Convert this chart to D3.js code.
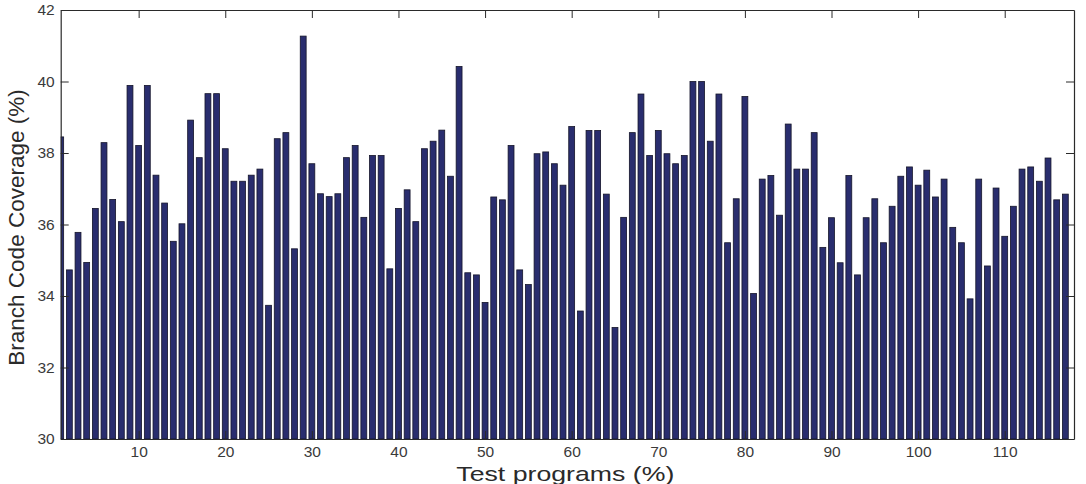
<!DOCTYPE html>
<html>
<head>
<meta charset="utf-8">
<script src="https://cdn.jsdelivr.net/npm/d3@7"></script>
<style>
  html, body { margin: 0; padding: 0; background: #fff; }
  svg { display: block; font-family: "Liberation Sans", Arial, Helvetica, sans-serif; }
</style>
</head>
<body>
<svg id="chart" width="1086" height="484"></svg>
<script>
// ---- data ----
const coverage = [
  38.45, 34.73, 35.78, 34.94, 36.45, 38.29, 36.70, 36.08, 39.89, 38.21,
  39.89, 37.38, 36.60, 35.53, 36.02, 38.92, 37.87, 39.66, 39.66, 38.12,
  37.21, 37.21, 37.38, 37.55, 33.74, 38.40, 38.57, 35.32, 41.27, 37.70,
  36.86, 36.78, 36.86, 37.87, 38.21, 36.20, 37.93, 37.93, 34.76, 36.45,
  36.97, 36.08, 38.12, 38.33, 38.64, 37.35, 40.42, 34.65, 34.59, 33.82,
  36.77, 36.69, 38.21, 34.73, 34.32, 37.98, 38.03, 37.70, 37.10, 38.74,
  33.58, 38.63, 38.63, 36.85, 33.12, 36.20, 38.57, 39.65, 37.93, 38.63,
  37.98, 37.70, 37.93, 40.00, 40.00, 38.33, 39.65, 35.49, 36.72, 39.58,
  34.07, 37.27, 37.37, 36.26, 38.81, 37.55, 37.55, 38.57, 35.36, 36.19,
  34.93, 37.37, 34.59, 36.19, 36.72, 35.49, 36.51, 37.35, 37.61, 37.10,
  37.52, 36.77, 37.27, 35.92, 35.49, 33.92, 37.27, 34.84, 37.02, 35.67,
  36.51, 37.55, 37.61, 37.21, 37.86, 36.69, 36.85
];
const programs = coverage.map((v, i) => i + 1);
const xTicks = [10, 20, 30, 40, 50, 60, 70, 80, 90, 100, 110];
const yTicks = [30, 32, 34, 36, 38, 40, 42];
const xDomain = [1, 118];
const yDomain = [30, 42];
const xTitle = "Test programs (%)";
const yTitle = "Branch Code Coverage (%)";

// ---- layout ----
const L = 60.7, R = 1074, T = 10, B = 439;
const svg = d3.select("#chart");
const x = d3.scaleLinear().domain(xDomain).range([L, R]);
const y = d3.scaleLinear().domain(yDomain).range([B, T]);
const unit = x(2) - x(1);
const bw = unit * 0.68;

svg.append("defs").append("clipPath").attr("id", "plotclip")
  .append("rect").attr("x", L).attr("y", T).attr("width", R - L).attr("height", B - T);

// bars
svg.append("g").attr("clip-path", "url(#plotclip)")
  .selectAll("rect").data(programs).join("rect")
  .attr("x", d => x(d) - bw / 2)
  .attr("width", bw)
  .attr("y", (d, i) => y(coverage[i]))
  .attr("height", (d, i) => y(yDomain[0]) - y(coverage[i]))
  .attr("fill", "#292d6e")
  .attr("stroke", "#15152a")
  .attr("stroke-width", 0.8);

const axisColor = "#2a2a2a";
const tickLen = 8;
const tickFmt = d3.format("d");

// bottom axis (ticks inward)
const gB = svg.append("g").attr("transform", `translate(0,${B})`)
  .call(d3.axisBottom(x).tickValues(xTicks).tickSizeInner(-tickLen).tickSizeOuter(0).tickPadding(7).tickFormat(tickFmt));
// top axis
const gT = svg.append("g").attr("transform", `translate(0,${T})`)
  .call(d3.axisTop(x).tickValues(xTicks).tickSizeInner(-tickLen).tickSizeOuter(0).tickFormat(""));
// left axis
const gL = svg.append("g").attr("transform", `translate(${L},0)`)
  .call(d3.axisLeft(y).tickValues(yTicks).tickSizeInner(-tickLen).tickSizeOuter(0).tickPadding(6).tickFormat(tickFmt));
// right axis
const gR = svg.append("g").attr("transform", `translate(${R},0)`)
  .call(d3.axisRight(y).tickValues(yTicks).tickSizeInner(-tickLen).tickSizeOuter(0).tickFormat(""));

[gB, gT, gL, gR].forEach(g => {
  g.select(".domain").attr("stroke", axisColor).attr("stroke-width", 1.2);
  g.selectAll(".tick line").attr("stroke", axisColor).attr("stroke-width", 1);
  g.selectAll(".tick text").attr("fill", "#3a3a3a").attr("font-size", 15.5)
    .attr("font-family", "'Liberation Sans', Arial, sans-serif");
});

// titles
svg.append("text")
  .attr("x", (L + R) / 2 - 2).attr("y", 480.5)
  .attr("text-anchor", "middle")
  .attr("font-size", 21)
  .attr("fill", "#2a2a2a")
  .attr("textLength", 218).attr("lengthAdjust", "spacingAndGlyphs")
  .text(xTitle);

svg.append("text")
  .attr("transform", `translate(24,${(T + B) / 2 + 3}) rotate(-90)`)
  .attr("text-anchor", "middle")
  .attr("font-size", 22.5)
  .attr("fill", "#2a2a2a")
  .text(yTitle);
</script>
</body>
</html>
